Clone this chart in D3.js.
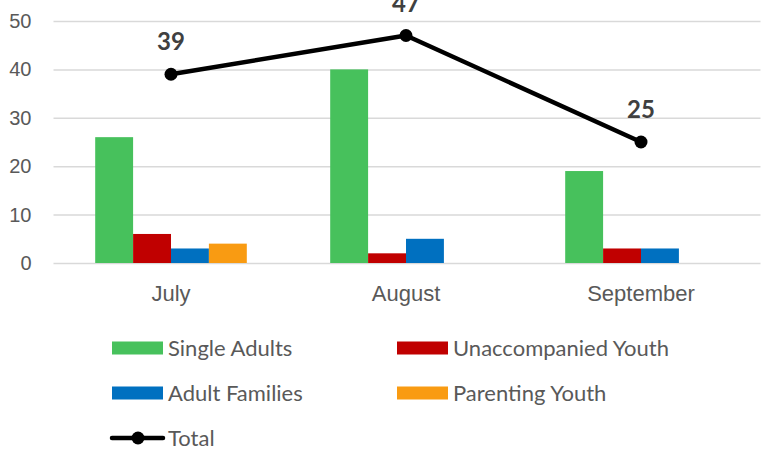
<!DOCTYPE html>
<html lang="en">
<head>
    <meta charset="UTF-8">
    <title>Monthly counts</title>
    <script src="https://d3js.org/d3.v7.min.js"></script>
    <style>
        body {
            margin: 0;
            padding: 0;
            background: #fff;
        }
        svg {
            display: block;
            font-family: Lato, "Open Sans", sans-serif;
        }
    </style>
</head>
<body>
    <div id="chart"></div>

    <script>
        const months = ["July", "August", "September"];
        const seriesNames = ["Single Adults", "Unaccompanied Youth", "Adult Families", "Parenting Youth"];
        const singleAdults = [26, 40, 19];
        const unaccompaniedYouth = [6, 2, 3];
        const adultFamilies = [3, 5, 3];
        const parentingYouth = [4, 0, 0];
        const total = [39, 47, 25];
        const yTicks = [0, 10, 20, 30, 40, 50];
        const colors = ["#47c15c", "#c00000", "#0070c0", "#f99b12"];

        const width = 764;
        const height = 465;
        const plot = { left: 53.5, right: 758.5, top: 21, bottom: 263 };

        const svg = d3.select("#chart")
            .append("svg")
            .attr("width", width)
            .attr("height", height);

        const x = d3.scaleBand()
            .domain(months)
            .range([plot.left, plot.right]);

        // 4 bars of ~38px centred in each ~235px band
        const x1 = d3.scaleBand()
            .domain(seriesNames)
            .range([0, x.bandwidth()])
            .paddingOuter(1.1)
            .paddingInner(0);

        const y = d3.scaleLinear()
            .domain([0, 50])
            .range([plot.bottom, plot.top]);

        // gridlines + y labels
        const yAxis = d3.axisLeft(y)
            .tickValues(yTicks)
            .tickSize(-(plot.right - plot.left + 2))
            .tickPadding(22);

        svg.append("g")
            .attr("transform", `translate(${plot.left},0)`)
            .call(yAxis)
            .call(g => g.select(".domain").remove())
            .call(g => g.selectAll(".tick line")
                .attr("stroke", "#d9d9d9")
                .attr("stroke-width", 1.5))
            .call(g => g.selectAll(".tick text")
                .attr("fill", "#595959")
                .attr("font-size", 20));

        // x labels
        const xAxis = d3.axisBottom(x).tickSize(0).tickPadding(22);
        svg.append("g")
            .attr("transform", `translate(0,${plot.bottom})`)
            .call(xAxis)
            .call(g => g.select(".domain").remove())
            .call(g => g.selectAll(".tick text")
                .attr("fill", "#595959")
                .attr("font-size", 22));

        // bars
        const allSeries = [singleAdults, unaccompaniedYouth, adultFamilies, parentingYouth];
        const rows = months.map((m, i) => ({
            month: m,
            values: seriesNames.map((s, j) => ({ name: s, value: allSeries[j][i], color: colors[j] }))
        }));

        const groups = svg.append("g").selectAll("g")
            .data(rows)
            .enter().append("g")
            .attr("transform", d => `translate(${x(d.month)},0)`);

        groups.selectAll("rect")
            .data(d => d.values.filter(v => v.value > 0))
            .enter().append("rect")
            .attr("x", d => x1(d.name))
            .attr("width", x1.bandwidth())
            .attr("y", d => y(d.value))
            .attr("height", d => y(0) - y(d.value))
            .attr("fill", d => d.color);

        // total line
        const line = d3.line()
            .x((d, i) => x(months[i]) + x.bandwidth() / 2)
            .y(d => y(d));

        svg.append("path")
            .datum(total)
            .attr("d", line)
            .attr("fill", "none")
            .attr("stroke", "#000")
            .attr("stroke-width", 4.5)
            .attr("stroke-linejoin", "round");

        svg.selectAll(".dot")
            .data(total)
            .enter().append("circle")
            .attr("class", "dot")
            .attr("cx", (d, i) => x(months[i]) + x.bandwidth() / 2)
            .attr("cy", d => y(d))
            .attr("r", 6.5)
            .attr("fill", "#000");

        svg.selectAll(".lbl")
            .data(total)
            .enter().append("text")
            .attr("class", "lbl")
            .attr("x", (d, i) => x(months[i]) + x.bandwidth() / 2)
            .attr("y", d => y(d) - 24)
            .attr("text-anchor", "middle")
            .attr("font-size", 24)
            .attr("font-weight", "bold")
            .attr("fill", "#404040")
            .text(d => d);

        // legend
        const legendItems = [
            { name: seriesNames[0], color: colors[0], x: 112, y: 348 },
            { name: seriesNames[1], color: colors[1], x: 397, y: 348 },
            { name: seriesNames[2], color: colors[2], x: 112, y: 393 },
            { name: seriesNames[3], color: colors[3], x: 397, y: 393 }
        ];

        const legend = svg.append("g");
        legendItems.forEach(item => {
            legend.append("rect")
                .attr("x", item.x)
                .attr("y", item.y - 6.5)
                .attr("width", 51)
                .attr("height", 13)
                .attr("fill", item.color);
            legend.append("text")
                .attr("x", item.x + 56)
                .attr("y", item.y)
                .attr("dy", "0.35em")
                .attr("font-size", 22)
                .attr("fill", "#595959")
                .text(item.name);
        });

        legend.append("line")
            .attr("x1", 112).attr("x2", 163)
            .attr("y1", 438).attr("y2", 438)
            .attr("stroke", "#000")
            .attr("stroke-width", 4.5)
            .attr("stroke-linecap", "round");
        legend.append("circle")
            .attr("cx", 138).attr("cy", 438)
            .attr("r", 6.5)
            .attr("fill", "#000");
        legend.append("text")
            .attr("x", 168)
            .attr("y", 438)
            .attr("dy", "0.35em")
            .attr("font-size", 22)
            .attr("fill", "#595959")
            .text("Total");
    </script>
</body>
</html>
